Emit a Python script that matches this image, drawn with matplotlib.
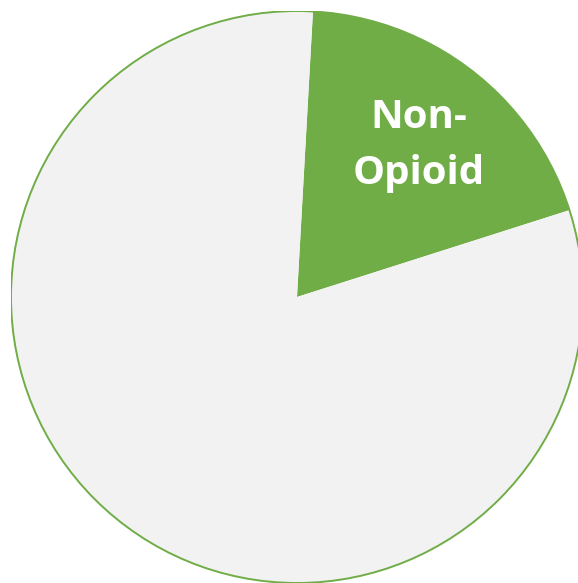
import matplotlib
matplotlib.use("Agg")
import matplotlib.pyplot as plt

labels = ["Non-\nOpioid", ""]
values = [19.2, 80.8]
colors = ["#70AD47", "#F2F2F2"]

W, H = 578, 583
fig = plt.figure(figsize=(W/100, H/100), dpi=100)
cx, cy, r = 297, 297, 286
ax = fig.add_axes([(cx - r)/W, (H - cy - r)/H, 2*r/W, 2*r/H])
wedges, _ = ax.pie(values, colors=colors, startangle=86.8, counterclock=False,
                   radius=1.0, wedgeprops=dict(linewidth=0, edgecolor="none"))
circ = plt.Circle((0, 0), 1.0, fill=False, edgecolor="#70AD47", linewidth=1.4)
ax.add_patch(circ)
ax.text(0.425, 0.53, labels[0], ha="center", va="center", color="white",
        fontsize=29, fontweight="bold", family=["Open Sans", "DejaVu Sans"],
        linespacing=1.56)
ax.set_xlim(-1, 1)
ax.set_ylim(-1, 1)
ax.set_aspect("equal")
ax.axis("off")
fig.savefig("out.png", dpi=100)
